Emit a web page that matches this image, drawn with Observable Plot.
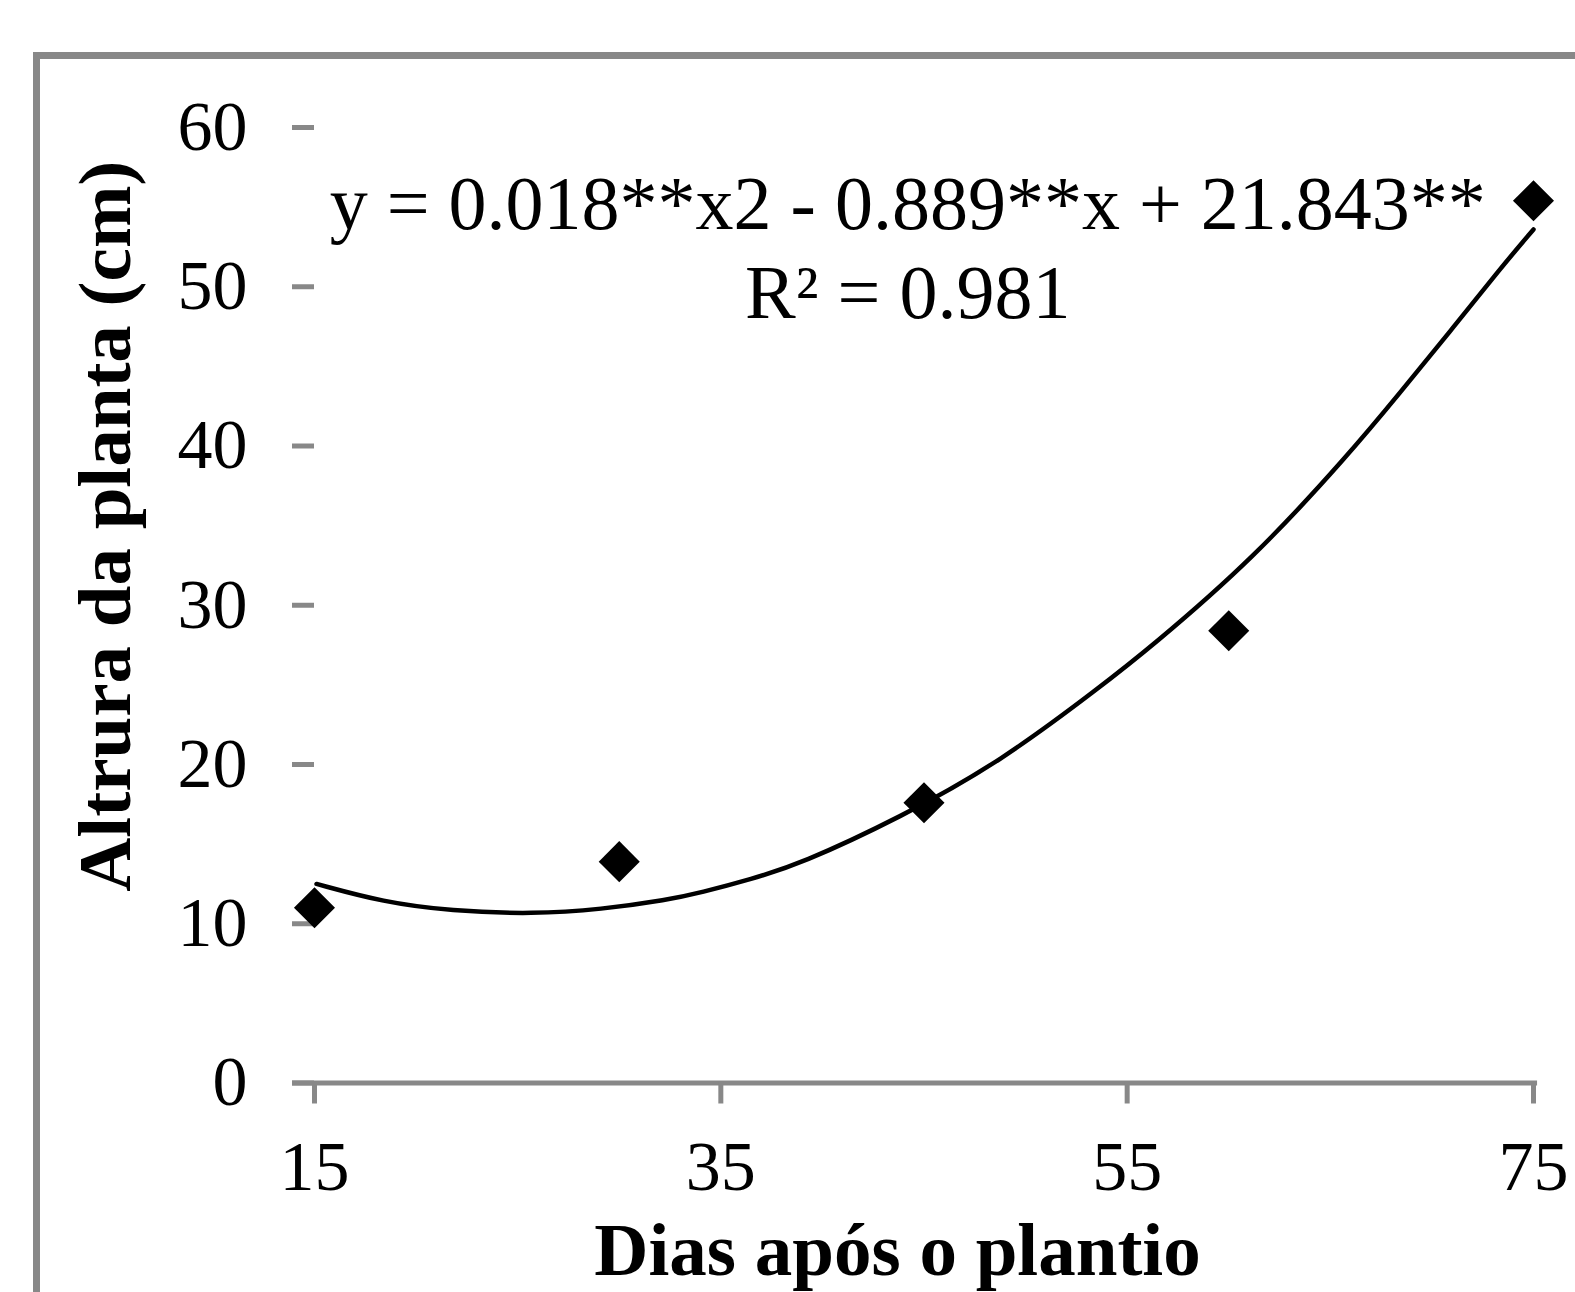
<!DOCTYPE html>
<html>
<head>
<meta charset="utf-8">
<script src="https://cdn.jsdelivr.net/npm/d3@7"></script>
<script src="https://cdn.jsdelivr.net/npm/@observablehq/plot@0.6"></script>
<style>
  html, body { margin: 0; padding: 0; background: #fff; overflow: hidden; }
  #wrap { position: relative; width: 1575px; height: 1292px; }
  #frame { position: absolute; left: 33px; top: 52px; width: 1700px; height: 1400px;
           border-left: 7px solid #888; border-top: 7px solid #888; box-sizing: border-box; }
  #chart { position: absolute; left: 0; top: 0; }
</style>
</head>
<body>
<div id="wrap"><div id="frame"></div><div id="chart"></div></div>
<script>
// Observed data (days after planting, plant height in cm)
const days = [15, 30, 45, 60, 75];
const heights = [11.0, 13.9, 17.6, 28.4, 55.4];

// Fitted trend curve
const curveDays = [15.1, 18.4, 21.7, 25.8, 29.1, 32.4, 34.0, 36.5, 38.9, 43.8, 48.8, 53.7, 56.1, 61.2, 66.0, 68.4, 70.9, 73.4, 75.0];
const curveHeights = [12.5, 11.35, 10.8, 10.6, 10.9, 11.5, 11.95, 12.8, 13.75, 16.65, 20.2, 24.9, 27.3, 32.9, 39.6, 43.3, 47.2, 51.2, 53.6];

// Tick labels
const xTicks = [15, 35, 55, 75];
const yTicks = [0, 10, 20, 30, 40, 50, 60];

// Texts
const xTitle = "Dias após o plantio";
const yTitle = "Altrura da planta (cm)";
const equation = "y = 0.018**x2 - 0.889**x + 21.843**";
const r2 = "R² = 0.981";
const annotX = 44.2;
const annotY = [55.15, 49.58];

const points = days.map((d, i) => ({x: d, y: heights[i]}));
const curve = curveDays.map((d, i) => ({x: d, y: curveHeights[i]}));
const annots = [{x: annotX, y: annotY[0], t: equation}, {x: annotX, y: annotY[1], t: r2}];

const serif = "'Liberation Serif', 'Times New Roman', serif";

const chart = Plot.plot({
  width: 1575,
  height: 1292,
  marginLeft: 314,
  marginRight: 42,
  marginTop: 127,
  marginBottom: 209.5,
  style: {fontFamily: serif, background: "transparent", overflow: "visible", color: "black"},
  x: {domain: [15, 75]},
  y: {domain: [0, 60]},
  marks: [
    Plot.ruleY([0], {x1: 13.92, x2: 75.2, stroke: "#888", strokeWidth: 5}),
    Plot.axisX({ticks: xTicks, tickSize: 21, tickPadding: 36, stroke: "#888", strokeWidth: 5,
                fontSize: 70, fill: "black", label: null}),
    Plot.axisY({ticks: yTicks, tickSize: 22, tickPadding: 45, stroke: "#888", strokeWidth: 5,
                fontSize: 70, fill: "black", label: null}),
    Plot.line(curve, {x: "x", y: "y", stroke: "black", strokeWidth: 4.5, curve: "basis"}),
    Plot.dot(points, {x: "x", y: "y", symbol: "diamond2", r: 18.5, fill: "black", stroke: "none"}),
    Plot.text(annots, {x: "x", y: "y", text: "t", fontSize: 76, fill: "black", textAnchor: "middle", lineAnchor: "middle"}),
    Plot.text([xTitle], {frameAnchor: "bottom", text: d => d, dx: -26.5, dy: 167.5, fontSize: 75,
                         fontWeight: "bold", fill: "black", textAnchor: "middle", lineAnchor: "middle"}),
    Plot.text([yTitle], {frameAnchor: "left", text: d => d, dx: -209, dy: -79, rotate: -90, fontSize: 75,
                         fontWeight: "bold", fill: "black", textAnchor: "middle", lineAnchor: "middle"})
  ]
});
document.getElementById("chart").appendChild(chart);
</script>
</body>
</html>
